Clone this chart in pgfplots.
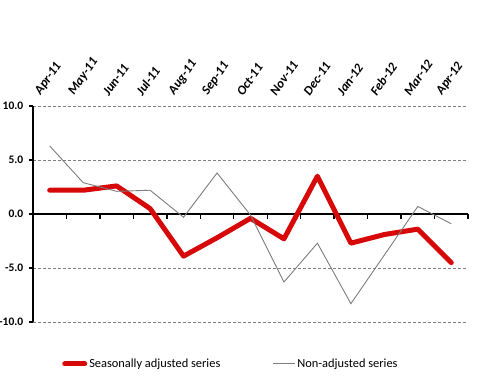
\documentclass[border=0pt]{standalone}
\usepackage{fontspec}
\setmainfont{Carlito}
\usepackage{pgfplots}
\pgfplotsset{compat=1.18}
\definecolor{sared}{RGB}{215,8,8}
\definecolor{nagray}{RGB}{125,125,125}
\begin{document}
\begin{tikzpicture}
\path[use as bounding box] (-33pt,-62pt) rectangle (467pt,322pt);
\begin{axis}[name=ax, at={(0pt,0pt)}, anchor=south west, scale only axis, width=435pt, height=216pt,
  xmin=0.5, xmax=13.5, ymin=-10, ymax=10,
  axis y line*=left, axis x line*=top,
  x axis line style={draw=none},
  y axis line style={black, line width=1.6pt},
  xtick={1,...,13},
  xticklabels={Apr-11,May-11,Jun-11,Jul-11,Aug-11,Sep-11,Oct-11,Nov-11,Dec-11,Jan-12,Feb-12,Mar-12,Apr-12},
  xticklabel pos=top,
  major x tick style={draw=none},
  xticklabel style={font=\fontsize{13}{15}\selectfont\bfseries\itshape, rotate=55, anchor=south west, inner sep=1pt, xshift=-1pt, yshift=8pt},
  ytick={-10,-5,0,5,10},
  yticklabel style={font=\fontsize{11.5}{14}\selectfont\bfseries, inner sep=0.5pt, xshift=-5pt},
  /pgf/number format/assume math mode=true,
  /pgf/number format/.cd, fixed, fixed zerofill, precision=1, /pgfplots/.cd,
  y tick style={black, line width=1.2pt},
  tick align=outside, major tick length=4pt,
  ymajorgrids, grid style={gray, dashed, line width=0.9pt, dash pattern=on 3pt off 2pt},
  legend style={at={(0.455,-0.194)}, anchor=center, draw=none, fill=none, legend columns=2,
    font=\fontsize{12.4}{14}\selectfont,
    /tikz/every even column/.append style={column sep=50pt}},
  legend cell align=left,
  clip=false,
]
\draw[black, line width=2pt] (axis cs:0.5,0) -- (axis cs:13.5,0);
\pgfplotsinvokeforeach{1.5,2.5,3.5,4.5,5.5,6.5,7.5,8.5,9.5,10.5,11.5,12.5,13.5}{\draw[black, line width=1.4pt] (axis cs:#1,0) -- (axis cs:#1,-0.45);}
\addplot[sared, line width=5pt, line cap=round, line join=round,
  legend image code/.code={\draw[sared, line width=5pt, line cap=round] (0pt,0pt) -- (20pt,0pt);}]
  coordinates {(1,2.2) (2,2.2) (3,2.6) (4,0.5) (5,-3.9) (6,-2.2) (7,-0.4) (8,-2.3) (9,3.5) (10,-2.7) (11,-1.9) (12,-1.4) (13,-4.5)};
\addlegendentry{Seasonally adjusted series}
\addplot[nagray, line width=0.9pt,
  legend image code/.code={\draw[nagray, line width=1pt] (0pt,0pt) -- (22pt,0pt);}]
  coordinates {(1,6.3) (2,2.9) (3,2.1) (4,2.2) (5,-0.3) (6,3.8) (7,-0.1) (8,-6.3) (9,-2.7) (10,-8.3) (11,-3.8) (12,0.7) (13,-0.9)};
\addlegendentry{Non-adjusted series}
\end{axis}
\end{tikzpicture}
\end{document}
